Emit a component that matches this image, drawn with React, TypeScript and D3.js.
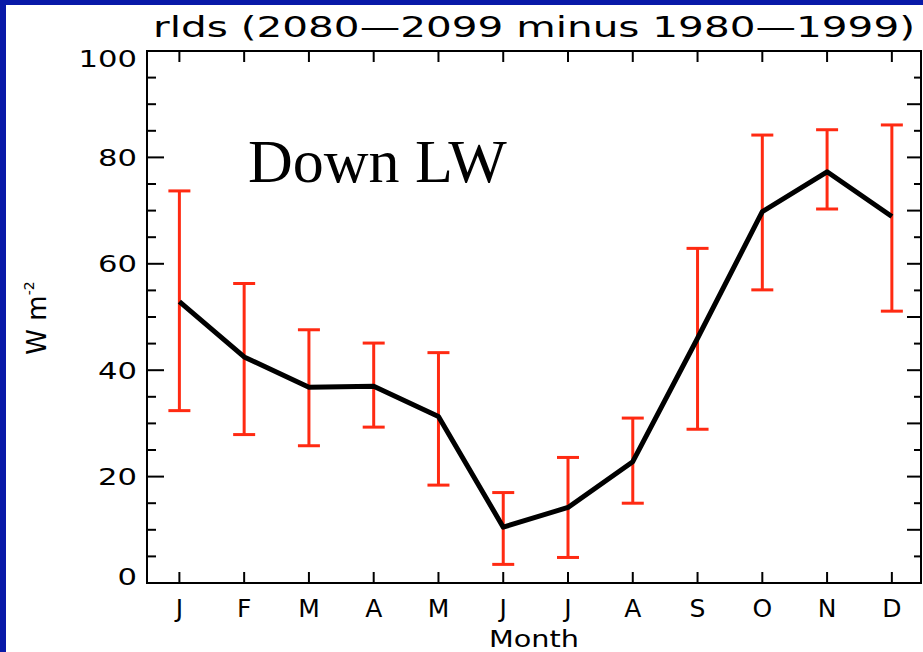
import React from "react";
import * as d3 from "d3";

// Monthly change in downward longwave radiation, 2080–2099 minus 1980–1999
const months = ["J", "F", "M", "A", "M", "J", "J", "A", "S", "O", "N", "D"];
const meanChange = [52.9, 42.5, 36.8, 37.0, 31.3, 10.5, 14.2, 22.8, 46.0, 69.8, 77.3, 68.9];
const upperBound = [73.7, 56.3, 47.6, 45.1, 43.3, 17.0, 23.6, 31.0, 62.9, 84.2, 85.2, 86.1];
const lowerBound = [32.4, 27.9, 25.8, 29.3, 18.4, 3.5, 4.8, 15.0, 28.9, 55.1, 70.3, 51.1];
const yTickLabels = [0, 20, 40, 60, 80, 100];

const W = 923;
const H = 652;
const left = 147;
const right = 921;
const top = 51;
const bottom = 583;

const FONT = "'DejaVu Sans', sans-serif";
const RED = "#ff2a12";

export default function App() {
  const x = d3.scaleLinear().domain([-0.5, 11.45]).range([left, right]);
  const y = d3.scaleLinear().domain([0, 100]).range([bottom, top]);

  const line = d3
    .line<number>()
    .x((_, i) => x(i))
    .y((d) => y(d));

  const minorTicks = d3.range(0, 101, 5);
  const capHalf = 11;

  return (
    <svg
      width={W}
      height={H}
      style={{ position: "absolute", left: 0, top: 0, background: "#fff" }}
    >
      {/* slide frame */}
      <rect x={0} y={0} width={W} height={5} fill="#0819a8" />
      <rect x={0} y={0} width={6} height={H} fill="#0819a8" />

      {/* title */}
      <text
        x={153}
        y={37}
        fontFamily={FONT}
        fontSize={28}
        textLength={762}
        lengthAdjust="spacingAndGlyphs"
        fill="#000"
      >
        rlds (2080—2099 minus 1980—1999)
      </text>

      {/* plot frame */}
      <rect
        x={left}
        y={top}
        width={right - left}
        height={bottom - top}
        fill="none"
        stroke="#000"
        strokeWidth={2}
      />

      {/* month ticks on bottom and top */}
      {months.map((_, i) => (
        <g key={"mt" + i} stroke="#000" strokeWidth={2}>
          <line x1={x(i)} x2={x(i)} y1={bottom} y2={bottom - 11} />
          <line x1={x(i)} x2={x(i)} y1={top} y2={top + 11} />
        </g>
      ))}

      {/* left axis ticks */}
      {minorTicks.map((v) => (
        <line
          key={"lt" + v}
          x1={left}
          x2={left + (v % 20 === 0 ? 17 : 9)}
          y1={y(v)}
          y2={y(v)}
          stroke="#000"
          strokeWidth={2}
        />
      ))}

      {/* right axis ticks */}
      {minorTicks.map((v) => (
        <line
          key={"rt" + v}
          x1={right}
          x2={right - (v % 10 === 0 ? 14 : 7)}
          y1={y(v)}
          y2={y(v)}
          stroke="#000"
          strokeWidth={2}
        />
      ))}

      {/* y tick labels, kept inside the axis extent */}
      {yTickLabels.map((v) => {
        const yy = Math.min(Math.max(y(v), top + 7), bottom - 7);
        const s = String(v);
        return (
          <text
            key={"yl" + v}
            x={137}
            y={yy + 8.5}
            textAnchor="end"
            fontFamily={FONT}
            fontSize={23}
            textLength={s.length * 19.5}
            lengthAdjust="spacingAndGlyphs"
            fill="#000"
          >
            {s}
          </text>
        );
      })}

      {/* month labels */}
      {months.map((m, i) => (
        <text
          key={"ml" + i}
          x={x(i)}
          y={617}
          textAnchor="middle"
          fontFamily={FONT}
          fontSize={25}
          fill="#000"
        >
          {m}
        </text>
      ))}

      {/* axis titles */}
      <text
        x={(left + right) / 2}
        y={647}
        textAnchor="middle"
        fontFamily={FONT}
        fontSize={23}
        textLength={90}
        lengthAdjust="spacingAndGlyphs"
        fill="#000"
      >
        Month
      </text>
      <text
        transform="translate(46,318) rotate(-90)"
        textAnchor="middle"
        fontFamily={FONT}
        fontSize={26}
        fill="#000"
      >
        W m
        <tspan fontSize={14} dy={-12}>
          -2
        </tspan>
      </text>

      {/* error bars */}
      {months.map((_, i) => (
        <g key={"eb" + i} stroke={RED} strokeWidth={3}>
          <line x1={x(i)} x2={x(i)} y1={y(upperBound[i])} y2={y(lowerBound[i])} />
          <line
            x1={x(i) - capHalf}
            x2={x(i) + capHalf}
            y1={y(upperBound[i])}
            y2={y(upperBound[i])}
          />
          <line
            x1={x(i) - capHalf}
            x2={x(i) + capHalf}
            y1={y(lowerBound[i])}
            y2={y(lowerBound[i])}
          />
        </g>
      ))}

      {/* mean change */}
      <path
        d={line(meanChange) ?? ""}
        fill="none"
        stroke="#000"
        strokeWidth={5}
        strokeLinejoin="round"
      />

      <text
        x={248}
        y={182}
        fontFamily="'Liberation Serif', 'Times New Roman', serif"
        fontSize={62}
        fill="#000"
      >
        Down LW
      </text>
    </svg>
  );
}
